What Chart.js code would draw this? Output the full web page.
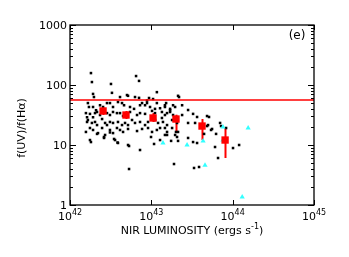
<!DOCTYPE html>
<html>
<head>
<meta charset="utf-8">
<script src="https://cdn.jsdelivr.net/npm/chart.js@4.4.1/dist/chart.umd.min.js"></script>
<style>
	html, body { margin: 0; padding: 0; background: #fff; }
	#wrap { width: 349px; height: 257px; }
</style>
</head>
<body>
<div id="wrap"><canvas id="uvChart" width="349" height="257"></canvas></div>
<script>
// NIR luminosity in units of 1e42 ergs/s, ratio f(UV)/f(Ha)
const allLum = [
	1.81, 1.86, 3.19, 6.49, 7.06, 11.7, 1.92, 1.97, 3.28, 4.12, 5.02, 5.17, 6.30, 7.06, 8.85, 8.85, 7.69, 11.7, 15.2, 21.3,
	1.66, 1.71, 1.92, 2.09, 2.34, 2.55, 2.85, 3.10, 3.38, 3.89, 4.36, 4.62, 5.47, 6.13, 7.26, 8.37, 9.64, 11.1, 12.8, 14.7,
	17.0, 19.6, 1.57, 1.62, 1.76, 1.92, 2.03, 2.15, 2.34, 2.85, 3.10, 3.38, 3.78, 4.12, 4.49, 5.47, 6.67, 7.26, 8.37, 10.2,
	11.1, 13.5, 14.7, 17.0, 18.5, 1.62, 1.66, 1.86, 2.03, 2.15, 2.48, 2.70, 2.85, 3.10, 3.38, 3.89, 4.36, 4.75, 5.17, 5.79,
	6.30, 7.26, 8.37, 9.11, 11.1, 12.1, 13.9, 15.6, 18.0, 20.7, 1.57, 1.76, 1.92, 2.21, 2.48, 2.70, 3.10, 3.38, 3.78, 4.12,
	4.49, 5.17, 6.67, 7.69, 9.11, 10.2, 11.7, 12.8, 15.6, 18.0, 19.6, 1.76, 1.81, 2.15, 2.62, 3.58, 3.89, 5.17, 7.26, 9.91,
	10.8, 12.8, 14.7, 17.5, 20.7, 5.32, 19.0, 2.62, 3.10, 3.48, 3.84, 5.32,
	21.9, 14.7, 18.5, 23.9, 17.0, 15.6, 23.9, 32.6, 36.5, 48.4, 51.2, 13.5, 28.3, 34.5, 49.8, 70.0, 72.0, 14.7, 20.1, 21.3,
	28.3, 32.6, 36.5, 55.8, 60.7, 15.6, 33.5, 38.6, 66.1, 101, 120, 48.4, 54.2, 83.0, 44.5, 62.5, 21.3, 28.3, 9.37, 10.5
];
const allRatio = [
	158, 112, 104, 141, 117, 76, 71, 63, 74, 63, 68, 66, 63, 61, 55, 50, 50, 50, 50, 66,
	50, 43, 43, 38, 46, 43, 50, 50, 43, 52, 50, 46, 43, 40, 46, 46, 43, 40, 41, 43,
	40, 43, 34, 29, 33, 29, 34, 35.5, 31.6, 34, 31.6, 35.5, 34, 34, 30.4, 35.5, 31.6, 34, 33, 37,
	34, 35.5, 31.6, 35.5, 31.6, 24.2, 26.1, 23.3, 24.2, 21.5, 27.1, 23.3, 21.5, 24.2, 23.3, 24.2, 21.5, 23.3, 21.5, 26.1,
	23.3, 24.2, 21.5, 24.2, 26.1, 23.3, 24.2, 21.5, 26.1, 23.3, 16.5, 19.2, 17.8, 15.8, 19.2, 14.7, 17.8, 15.8, 19.2, 17.8,
	16.5, 18.5, 17.1, 18.5, 19.2, 16.5, 17.8, 19.2, 16.5, 19.2, 14.7, 12.1, 11.2, 15.3, 13.6, 12.1, 10.8, 10.0, 8.25, 13.6,
	10.4, 12.1, 14.7, 11.7, 13.6, 3.98, 4.82, 13.1, 16.2, 12.6, 11.0, 9.62,
	63, 46, 46, 46, 38, 34, 31.6, 33, 29.3, 30.4, 29.3, 28.2, 23.3, 23.3, 21.5, 23.3, 20.7, 19.2, 16.5, 16.5,
	13.1, 11.2, 10.8, 18.5, 9.26, 14.7, 4.14, 4.30, 6.07, 8.9, 10, 20.7, 17.8, 19.2, 15.3, 15.3, 11.7, 38.3, 60.7, 58.4
];

// cyan triangles
const cyanLum = [13.9, 27.5, 43.3, 76, 76, 155, 45.7, 131];
const cyanRatio = [10.8, 10.0, 11.7, 20, 12.1, 19.2, 4.6, 1.36];

// binned means with error bars
const meanLum = [2.55, 4.88, 10.5, 20.1, 42.0, 80.7];
const meanRatio = [36.9, 31.6, 28.2, 27.1, 20.7, 12.1];
const meanLo = [31.6, 27.1, 24.2, 16.5, 12.1, 6.07];
const meanHi = [42.0, 36.9, 34.1, 32.0, 27.1, 19.2];

const refRatio = 56;

const xTickExp = [42, 43, 44, 45];
const yTickLabels = [1, 10, 100, 1000];
const panelTag = '(e)';

const LUM_UNIT = 1e42;
const FONT = '"DejaVu Sans", "Liberation Sans", sans-serif';

const toPoints = (xs, ys) => xs.map((x, i) => ({ x: x * LUM_UNIT, y: ys[i] }));

const axesPlugin = {
	id: 'idlAxes',
	beforeDatasetsDraw: (chart) => {
		const ctx = chart.ctx;
		const xs = chart.scales.x;
		const ys = chart.scales.y;
		ctx.save();
		ctx.strokeStyle = '#ff0000';
		ctx.lineWidth = 2;
		meanLum.forEach((l, i) => {
			let px = Math.round(xs.getPixelForValue(l * LUM_UNIT)) + 0.5;
			ctx.beginPath();
			ctx.moveTo(px, ys.getPixelForValue(meanLo[i]));
			ctx.lineTo(px, ys.getPixelForValue(meanHi[i]));
			ctx.stroke();
		});
		ctx.restore();
	},
	afterDraw: (chart) => {
		const ctx = chart.ctx;
		const a = chart.chartArea;
		const xs = chart.scales.x;
		const ys = chart.scales.y;
		ctx.save();
		ctx.strokeStyle = '#000';
		ctx.fillStyle = '#000';
		ctx.lineWidth = 1.3;
		ctx.strokeRect(a.left, a.top, a.right - a.left, a.bottom - a.top);

		// y ticks (major + minor), both sides, inward
		ctx.lineWidth = 1;
		for (let d = 0; d < 3; d++) {
			for (let m = 1; m <= 10; m++) {
				let v = m * Math.pow(10, d);
				let py = Math.round(ys.getPixelForValue(v)) + 0.5;
				let len = (m === 1 || m === 10) ? 6 : 3;
				ctx.beginPath();
				ctx.moveTo(a.left, py); ctx.lineTo(a.left + len, py);
				ctx.moveTo(a.right, py); ctx.lineTo(a.right - len, py);
				ctx.stroke();
			}
		}
		// x ticks, major only
		xTickExp.forEach((e) => {
			let px = Math.round(xs.getPixelForValue(Math.pow(10, e))) + 0.5;
			ctx.beginPath();
			ctx.moveTo(px, a.bottom); ctx.lineTo(px, a.bottom - 5);
			ctx.moveTo(px, a.top); ctx.lineTo(px, a.top + 5);
			ctx.stroke();
		});

		// y tick labels
		ctx.font = '11px ' + FONT;
		ctx.textAlign = 'right';
		ctx.textBaseline = 'middle';
		yTickLabels.forEach((v) => {
			ctx.fillText(String(v), a.left - 3, ys.getPixelForValue(v) + 1);
		});

		// x tick labels with superscript exponent
		xTickExp.forEach((e) => {
			let px = xs.getPixelForValue(Math.pow(10, e));
			ctx.font = '11px ' + FONT;
			let wBase = ctx.measureText('10').width;
			ctx.font = '8px ' + FONT;
			let wExp = ctx.measureText(String(e)).width;
			let x0 = px - (wBase + wExp) / 2;
			ctx.textAlign = 'left';
			ctx.textBaseline = 'alphabetic';
			ctx.font = '11px ' + FONT;
			ctx.fillText('10', x0, a.bottom + 15);
			ctx.font = '8px ' + FONT;
			ctx.fillText(String(e), x0 + wBase, a.bottom + 10);
		});

		// x title
		let t1 = 'NIR LUMINOSITY (ergs s';
		ctx.font = '11px ' + FONT;
		let w1 = ctx.measureText(t1).width;
		let w3 = ctx.measureText(')').width;
		ctx.font = '8px ' + FONT;
		let w2 = ctx.measureText('-1').width;
		let xc = (a.left + a.right) / 2;
		let tx = xc - (w1 + w2 + w3) / 2;
		ctx.textAlign = 'left';
		ctx.font = '11px ' + FONT;
		ctx.fillText(t1, tx, a.bottom + 29);
		ctx.font = '8px ' + FONT;
		ctx.fillText('-1', tx + w1, a.bottom + 24);
		ctx.font = '11px ' + FONT;
		ctx.fillText(')', tx + w1 + w2, a.bottom + 29);

		// y title
		ctx.save();
		ctx.translate(22, (a.top + a.bottom) / 2 + 13);
		ctx.rotate(-Math.PI / 2);
		ctx.textAlign = 'center';
		ctx.textBaseline = 'middle';
		ctx.font = '11px ' + FONT;
		ctx.fillText('f(UV)/f(H\u03b1)', 0, 0);
		ctx.restore();

		// panel tag
		ctx.font = '12px ' + FONT;
		ctx.textAlign = 'center';
		ctx.textBaseline = 'middle';
		ctx.fillText(panelTag, a.right - 17, a.top + 11);
		ctx.restore();
	}
};

const ctx = document.getElementById('uvChart');
new Chart(ctx, {
	type: 'scatter',
	data: {
		datasets: [
			{
				label: 'means',
				data: toPoints(meanLum, meanRatio),
				pointStyle: 'rect',
				pointRadius: 5.2,
				backgroundColor: '#ff0000',
				borderWidth: 0
			},
			{
				type: 'line',
				label: 'reference',
				data: [{ x: 1e42, y: refRatio }, { x: 1e45, y: refRatio }],
				borderColor: '#ff0000',
				borderWidth: 1.5,
				pointRadius: 0,
				fill: false
			},
			{
				label: 'cyan',
				data: toPoints(cyanLum, cyanRatio),
				pointStyle: 'triangle',
				pointRadius: 3,
				backgroundColor: '#33ffff',
				borderWidth: 0
			},
			{
				label: 'galaxies',
				data: toPoints(allLum, allRatio),
				pointStyle: 'rect',
				pointRadius: 1.8,
				backgroundColor: '#000',
				borderWidth: 0
			}
		]
	},
	options: {
		responsive: false,
		animation: false,
		events: [],
		layout: { padding: { left: 70, right: 35, top: 25, bottom: 52 } },
		plugins: { legend: { display: false }, tooltip: { enabled: false } },
		scales: {
			x: { type: 'logarithmic', min: 1e42, max: 1e45, display: false },
			y: { type: 'logarithmic', min: 1, max: 1000, display: false }
		}
	},
	plugins: [axesPlugin]
});
</script>
</body>
</html>
